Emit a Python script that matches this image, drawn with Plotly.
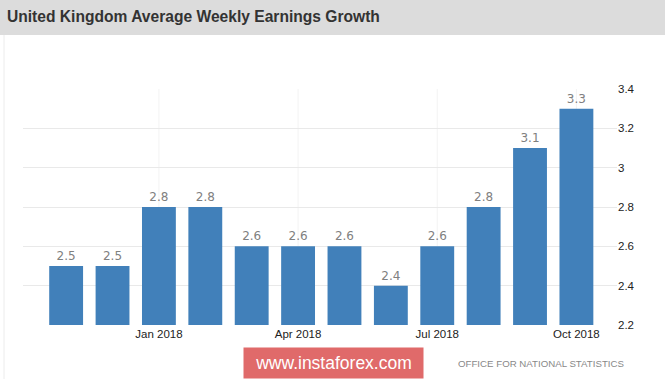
import plotly.graph_objects as go

months = ["Nov 2017", "Dec 2017", "Jan 2018", "Feb 2018", "Mar 2018", "Apr 2018",
          "May 2018", "Jun 2018", "Jul 2018", "Aug 2018", "Sep 2018", "Oct 2018"]
values = [2.5, 2.5, 2.8, 2.8, 2.6, 2.6, 2.6, 2.4, 2.6, 2.8, 3.1, 3.3]
tick_months = ["Jan 2018", "Apr 2018", "Jul 2018", "Oct 2018"]
y_ticks = [2.2, 2.4, 2.6, 2.8, 3.0, 3.2, 3.4]

idx = list(range(len(months)))
tick_idx = [months.index(m) for m in tick_months]

W, H = 665, 379
L, R, T, B = 23, 48, 89, 54
pw, ph = W - L - R, H - T - B

def px_x(x):
    return (x - L) / pw

def px_y(y):
    return (H - B - y) / ph

fig = go.Figure()
fig.add_trace(go.Bar(
    x=idx, y=values, width=0.73,
    marker=dict(color="#4180ba", line=dict(width=0)),
    text=[f"{v:g}" for v in values], textposition="outside",
    textfont=dict(color="#808080", size=12, family="DejaVu Sans"),
    cliponaxis=False, hoverinfo="skip",
))

shapes = [
    dict(type="rect", xref="paper", yref="paper", x0=px_x(0), x1=px_x(W), y0=px_y(35), y1=px_y(0),
         fillcolor="#dcdcdc", line=dict(width=0), layer="below"),
    dict(type="line", xref="paper", yref="paper", x0=px_x(4), x1=px_x(4), y0=px_y(379), y1=px_y(35),
         line=dict(color="#ececec", width=1)),
]
for t in tick_idx:
    shapes.append(dict(type="line", xref="x", yref="paper", x0=t, x1=t, y0=0, y1=1,
                       line=dict(color="#f3f3f3", width=1), layer="below"))

fig.update_layout(
    width=W, height=H, margin=dict(l=L, r=R, t=T, b=B),
    paper_bgcolor="white", plot_bgcolor="white", showlegend=False,
    bargap=0.27,
    font=dict(family="Arial", color="#333"),
    xaxis=dict(range=[-0.93, 11.875], tickvals=tick_idx, ticktext=tick_months,
               showgrid=False, zeroline=False, showline=False, ticks="",
               tickfont=dict(size=11.5, color="#222", family="Arial")),
    yaxis=dict(range=[2.2, 3.4], side="right", tickvals=y_ticks,
               ticktext=[f"{v:g}" for v in y_ticks],
               showgrid=True, gridcolor="#e9e9e9", zeroline=False, showline=False,
               ticks="", tickfont=dict(size=11.5, color="#222", family="Arial")),
    shapes=shapes,
    annotations=[
        dict(text="<b>United Kingdom Average Weekly Earnings Growth</b>", xref="paper", yref="paper",
             x=px_x(5), y=px_y(17), xanchor="left", yanchor="middle", showarrow=False,
             font=dict(size=15.6, color="#333", family="Arial")),
        dict(text="www.instaforex.com", xref="paper", yref="paper",
             x=px_x(333), y=px_y(363), xanchor="center", yanchor="middle", showarrow=False,
             font=dict(size=17.5, color="white", family="Arial"),
             bgcolor="#e06a6a", width=173, height=24, borderpad=3),
        dict(text="OFFICE FOR NATIONAL STATISTICS", xref="paper", yref="paper",
             x=px_x(626), y=px_y(363), xanchor="right", yanchor="middle", showarrow=False,
             font=dict(size=9.7, color="#888", family="Arial")),
    ],
)

fig.write_html("out.html", config={"displayModeBar": False},
               post_script="document.body.style.margin='0';document.body.style.overflow='hidden';")
